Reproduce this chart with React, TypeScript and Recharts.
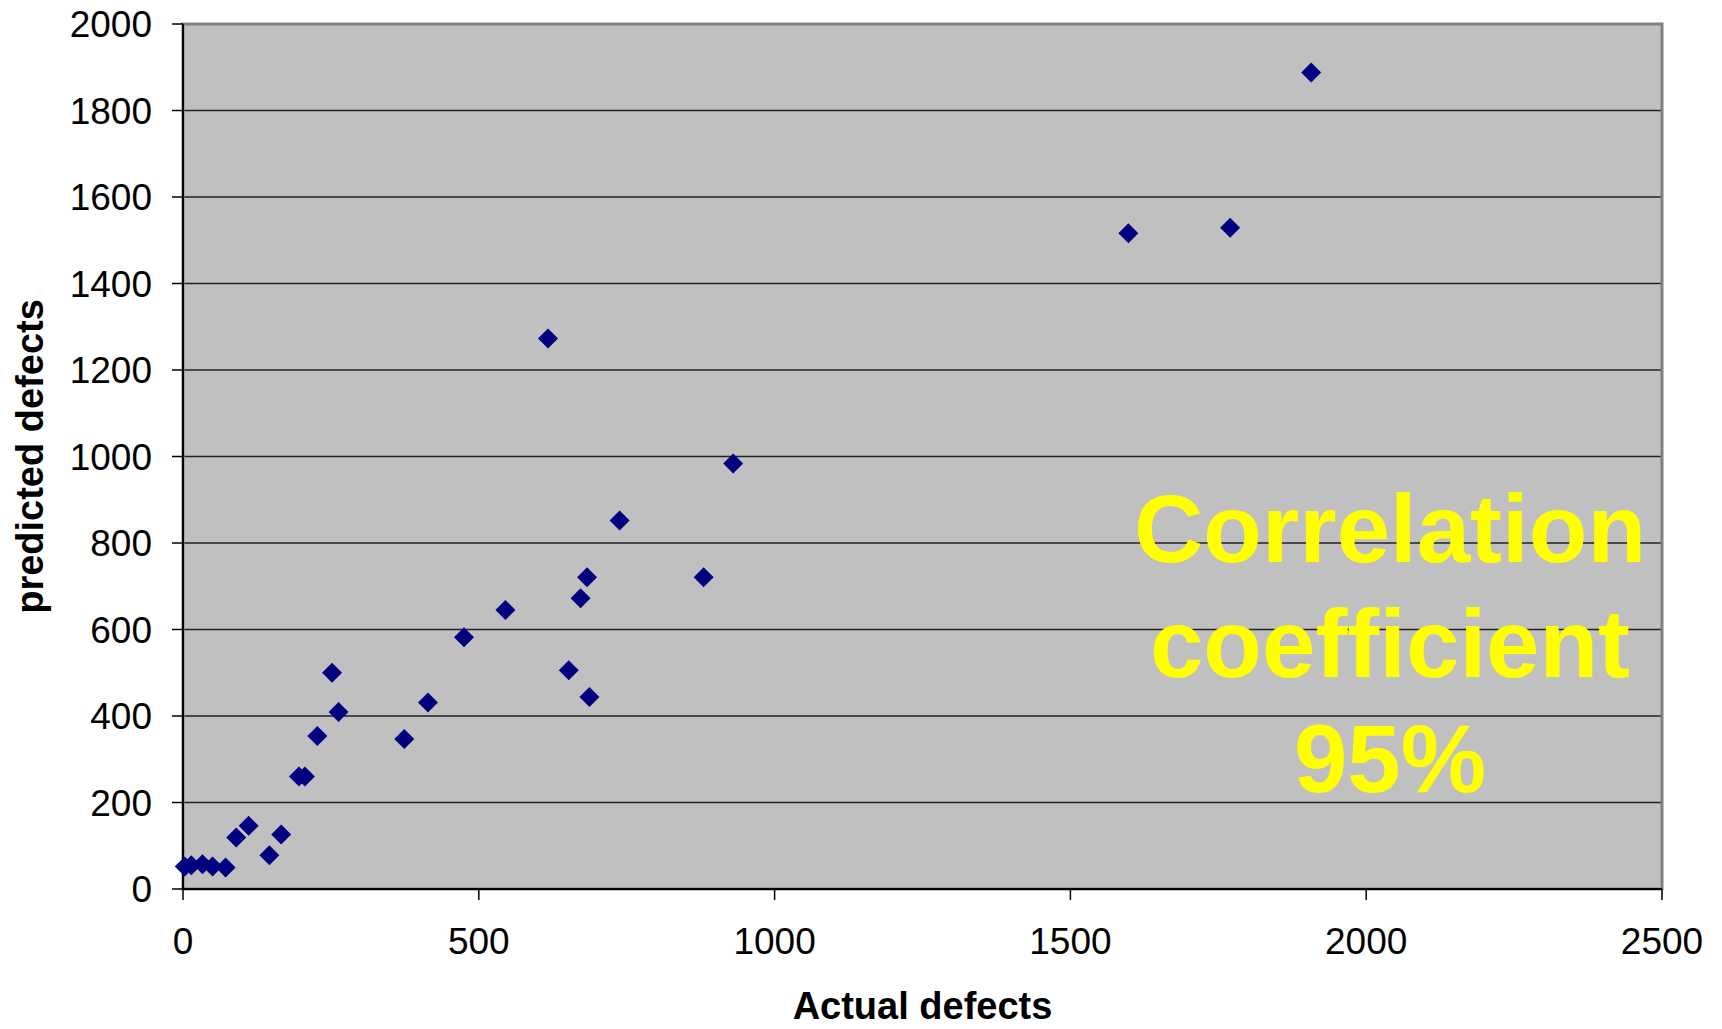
import { ScatterChart, Scatter, XAxis, YAxis, CartesianGrid, ReferenceArea } from 'recharts';

// Données
const actualDefects = [3, 14, 33, 50, 72, 90, 111, 146, 166, 196, 206, 227, 252, 263, 374, 414, 475, 545, 617, 652, 672, 683, 687, 738, 880, 930, 1598, 1770, 1907];
const predictedDefects = [52, 55, 57, 52, 50, 119, 146, 78, 126, 260, 260, 354, 500, 409, 347, 431, 582, 645, 1273, 506, 672, 721, 444, 852, 721, 984, 1516, 1529, 1888];

const xTicks = [0, 500, 1000, 1500, 2000, 2500];
const yTicks = [0, 200, 400, 600, 800, 1000, 1200, 1400, 1600, 1800, 2000];

const annotationLines = ['Correlation', 'coefficient', '95%'];

const FONT = 'Arial, "Liberation Sans", sans-serif';

const data = actualDefects.map((x, i) => ({ x, y: predictedDefects[i] }));

const Diamond = (props: any) => {
  const { cx, cy } = props;
  const r = 10;
  return (
    <polygon
      points={`${cx},${cy - r} ${cx + r},${cy} ${cx},${cy + r} ${cx - r},${cy}`}
      fill="#000080"
    />
  );
};

const App = () => {
  return (
    <div style={{ position: 'absolute', left: 0, top: 0, width: 1722, height: 1029, background: '#fff' }}>
      <ScatterChart width={1722} height={1029} margin={{ top: 24, right: 60, bottom: 0, left: 0 }}>
        <CartesianGrid vertical={false} stroke="#222" strokeWidth={1.5} fill="#c0c0c0" fillOpacity={1} />
        <ReferenceArea x1={0} x2={2500} y1={0} y2={2000} fill="none" stroke="#808080" strokeWidth={3} />
        <XAxis
          type="number"
          dataKey="x"
          domain={[0, 2500]}
          ticks={xTicks}
          height={140}
          tickSize={11}
          tickMargin={28}
          axisLine={{ stroke: '#000', strokeWidth: 2 }}
          tickLine={{ stroke: '#000', strokeWidth: 1.5 }}
          tick={{ fill: '#000', fontSize: 37, fontFamily: FONT }}
          label={{
            value: 'Actual defects',
            position: 'insideBottom',
            offset: 10,
            fill: '#000',
            fontSize: 38,
            fontWeight: 'bold',
            fontFamily: FONT,
          }}
        />
        <YAxis
          type="number"
          dataKey="y"
          domain={[0, 2000]}
          ticks={yTicks}
          width={183}
          tickSize={11}
          tickMargin={20}
          axisLine={{ stroke: '#000', strokeWidth: 2 }}
          tickLine={{ stroke: '#000', strokeWidth: 1.5 }}
          tick={{ fill: '#000', fontSize: 37, fontFamily: FONT }}
          label={{
            content: ({ viewBox }: any) => {
              const cy = viewBox.y + viewBox.height / 2;
              return (
                <text
                  x={43}
                  y={cy}
                  transform={`rotate(-90, 43, ${cy})`}
                  textAnchor="middle"
                  fill="#000"
                  fontSize={38}
                  fontWeight="bold"
                  fontFamily={FONT}
                >
                  predicted defects
                </text>
              );
            },
          }}
        />
        <Scatter data={data} shape={<Diamond />} isAnimationActive={false} />
      </ScatterChart>
      <div
        style={{
          position: 'absolute',
          left: 1090,
          top: 471,
          width: 600,
          textAlign: 'center',
          fontFamily: FONT,
          fontWeight: 'bold',
          fontSize: 96,
          lineHeight: '115px',
          color: '#ffff00',
          pointerEvents: 'none',
        }}
      >
        {annotationLines.map((line) => (
          <div key={line}>{line}</div>
        ))}
      </div>
    </div>
  );
};

export default App;
